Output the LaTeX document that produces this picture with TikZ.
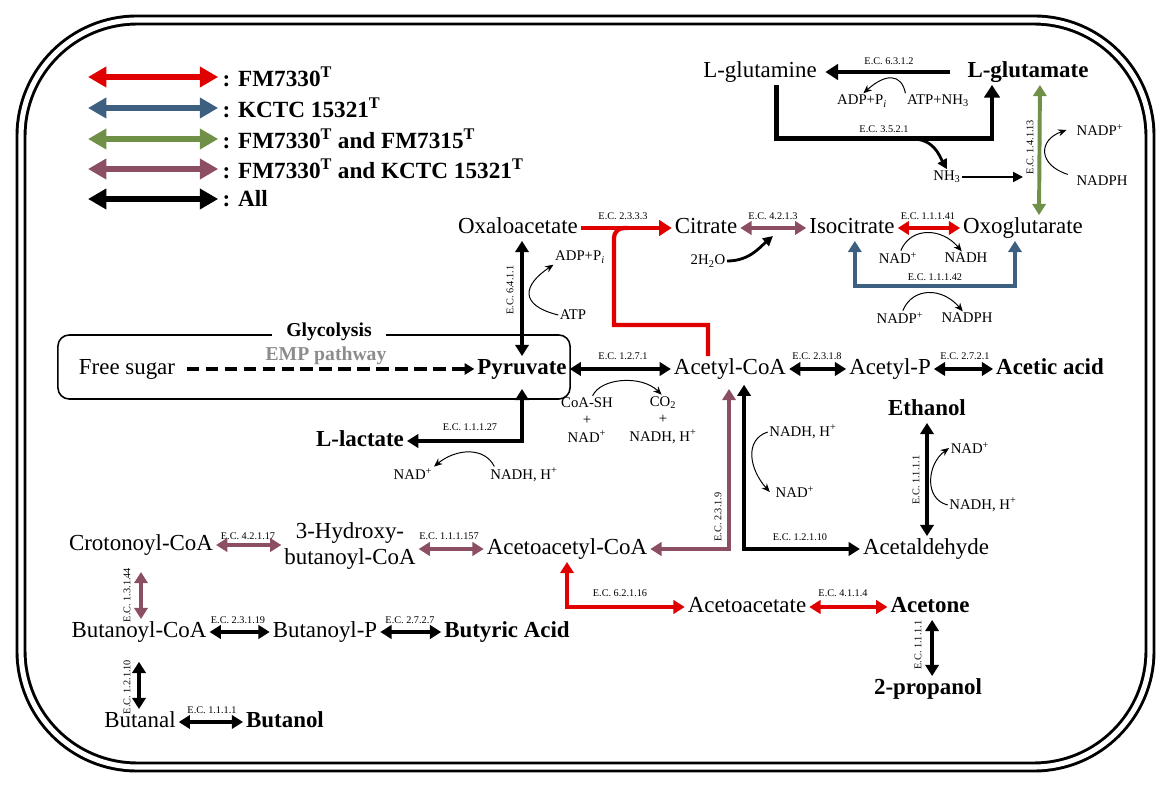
\documentclass[tikz,border=0pt]{standalone}
\usepackage{fontspec}
\setmainfont{Liberation Serif}
\usepackage{xcolor}
\usepackage{tikz}
\usetikzlibrary{arrows.meta}
\definecolor{strred}{RGB}{224,0,0}
\definecolor{strblue}{RGB}{62,96,128}
\definecolor{strgreen}{RGB}{112,144,72}
\definecolor{strmauve}{RGB}{140,78,98}
\definecolor{empgray}{RGB}{140,140,140}
\newcommand{\strT}{\textsuperscript{T}}
\newcommand{\nadplus}{NAD\textsuperscript{+}}
\newcommand{\nadpplus}{NADP\textsuperscript{+}}
\newcommand{\nadhh}{NADH, H\textsuperscript{+}}
\newcommand{\adppi}{ADP+P\textsubscript{\textit{i}}}

\begin{document}
\begin{tikzpicture}[x=0.025cm, y=-0.025cm,
	cpd/.style={font=\fontsize{16.3}{18}\selectfont, inner sep=2pt, text height=11pt, text depth=3pt},
	prod/.style={cpd, font=\fontsize{16.3}{18}\selectfont\bfseries},
	ec/.style={font=\fontsize{7.3}{8}\selectfont, inner sep=1pt},
	ecv/.style={ec, rotate=90},
	cof/.style={font=\fontsize{10.5}{12.5}\selectfont, inner sep=1pt, align=center},
	rxn/.style={line width=2.8pt, {Triangle[length=8pt,width=9.5pt]}-{Triangle[length=8pt,width=9.5pt]}},
	fwd/.style={line width=3pt, -{Triangle[length=9pt,width=11pt]}},
	legarr/.style={line width=3.6pt, {Triangle[length=13pt,width=14pt]}-{Triangle[length=13pt,width=14pt]}},
	legtxt/.style={font=\fontsize{16.5}{18}\selectfont\bfseries, inner sep=1pt, anchor=west},
	cofarr/.style={line width=0.7pt, -{Stealth[length=6pt,width=5pt]}},
	midarr/.style={line width=1.6pt, -{Triangle[length=7pt,width=7pt]}}]
	\useasboundingbox (0,0) rectangle (1171,786);
	\draw[line width=2.1pt, double distance=3.6pt, rounded corners=2.9cm] (21,20) rectangle (1150,767);

	% legend
	\node[legtxt] (lg1) at (221,77) {: FM7330\strT};
	\node[legtxt] (lg2) at (221,108) {: KCTC 15321\strT};
	\node[legtxt] (lg3) at (221,139) {: FM7330\strT{} and FM7315\strT};
	\node[legtxt] (lg4) at (221,169) {: FM7330\strT{} and KCTC 15321\strT};
	\node[legtxt] (lg5) at (221,199) {: All};
	\coordinate (lk1) at (88,77);
	\coordinate (lk2) at (88,108);
	\coordinate (lk3) at (88,139);
	\coordinate (lk4) at (88,169);
	\coordinate (lk5) at (88,199);
	\draw[legarr, strred, shorten >=2pt] (lk1) -- (lg1.west);
	\draw[legarr, strblue, shorten >=2pt] (lk2) -- (lg2.west);
	\draw[legarr, strgreen, shorten >=2pt] (lk3) -- (lg3.west);
	\draw[legarr, strmauve, shorten >=2pt] (lk4) -- (lg4.west);
	\draw[legarr, black, shorten >=2pt] (lk5) -- (lg5.west);

	% glutamine / glutamate
	\node[cpd] (glnm) at (760,72) {L-glutamine};
	\node[prod] (glut) at (1028,72) {L-glutamate};
	\node[ec] (ec6312) at (889,61) {E.C. 6.3.1.2};
	\node[cof] (adp1) at (862,101) {\adppi};
	\node[cof] (atp1) at (938,101) {ATP+NH\textsubscript{3}};
	\draw[fwd, line width=3.5pt, shorten <=10pt, shorten >=4pt] (glut.west) -- (glnm.east);
	\draw[cofarr] (atp1.north west) .. controls +(-4,-20) and +(22,-20) .. ([xshift=1pt]adp1.north);
	\node[ec] (ec3521) at (884,129) {E.C. 3.5.2.1};
	\draw[fwd, line width=3.5pt] ([xshift=12pt]glnm.south) -- ++(0,54) -| ([xshift=-25.6pt]glut.south);
	\coordinate (nhsrc) at (912,139);
	\node[cof] (nh3) at (947,177) {NH\textsubscript{3}};
	\draw[midarr, line width=2pt] (nhsrc) .. controls +(22,0) and +(-8,-14) .. (nh3.north);
	\node[ecv] (ec14113) at (1030,147) {E.C. 1.4.1.13};
	\coordinate (glnh) at (1023,177);
	\draw[midarr, line width=1.4pt] (nh3.east) -- (glnh);
	\node[cof] (nadpo) at (1100,130) {\nadpplus};
	\node[cof] (nadph1) at (1102,181) {NADPH};
	\draw[cofarr] ([xshift=-5pt]nadph1.north west) .. controls (1038,165) and (1038,140) .. ([xshift=-6pt]nadpo.west);

	% citric row
	\node[cpd] (oxa) at (518,228) {Oxaloacetate};
	\node[cpd] (cit) at (706,228) {Citrate};
	\node[cpd] (isoc) at (852,228) {Isocitrate};
	\node[cpd] (oxo) at (1023,228) {Oxoglutarate};
	\draw[rxn, strgreen] ([xshift=11.4pt]oxo.north) -- ([xshift=8.5pt]glut.south);
	\draw[fwd, strred] (oxa.east) -- (cit.west);
	\node[ec] (ec2333) at (623,216) {E.C. 2.3.3.3};
	\draw[rxn, strmauve] (cit.east) -- (isoc.west);
	\node[ec] (ec4213) at (773,216) {E.C. 4.2.1.3};
	\node[cof] (h2o) at (708,261) {2H\textsubscript{2}O};
	\coordinate (h2oend) at (773,236);
	\draw[midarr, line width=2pt] (h2o.east) .. controls +(22,0) and +(-14,12) .. (h2oend);
	\draw[rxn, strred] (isoc.east) -- (oxo.west);
	\node[ec] (ec11141) at (928,216) {E.C. 1.1.1.41};
	\node[cof] (nad1) at (898,258) {\nadplus};
	\node[cof] (nadh1) at (966,258) {NADH};
	\draw[cofarr] ([xshift=2pt]nad1.north) .. controls +(10,-24) and +(-20,-24) .. ([xshift=-3pt]nadh1.north);
	\draw[rxn, strblue] ([xshift=2pt]isoc.south) -- ++(0,45) -| ([xshift=-5.7pt]oxo.south);
	\node[ec] (ec11142) at (935,277) {E.C. 1.1.1.42};
	\node[cof] (nadp2) at (900,318) {\nadpplus};
	\node[cof] (nadph2) at (967,318) {NADPH};
	\draw[cofarr] ([xshift=2pt]nadp2.north) .. controls +(10,-24) and +(-20,-24) .. ([xshift=-3pt]nadph2.north);

	% glycolysis
	\node[draw, line width=1.1pt, rounded corners=8pt, minimum width=12.8cm, minimum height=1.6cm] (glybox) at (314,367) {};
	\node[font=\fontsize{14}{16}\selectfont\bfseries, fill=white, inner xsep=10pt, inner ysep=1pt] (gly) at (329,332) {Glycolysis};
	\node[font=\fontsize{14}{16}\selectfont\bfseries, text=empgray] (emp) at (326,356) {EMP pathway};
	\node[cpd] (sugar) at (127,369) {Free sugar};
	\node[prod] (pyr) at (522,369) {Pyruvate};
	\draw[line width=2.2pt, dash pattern=on 9pt off 4.5pt, -{Triangle[length=7pt,width=8pt]}, shorten <=6pt] (sugar.east) -- (pyr.west);
	\draw[rxn] (oxa.south -| pyr.north) -- (pyr.north);
	\node[ecv] (ec6411) at (510,290) {E.C. 6.4.1.1};
	\node[cof] (adp2) at (580,257) {\adppi};
	\node[cof] (atp2) at (573,315) {ATP};
	\draw[cofarr] (atp2.west) .. controls +(-40,-10) and +(-30,20) .. (adp2.south west);
	\node[prod] (lac) at (360,441) {L-lactate};
	\draw[rxn, shorten >=5pt] (lac.east) -| (pyr.south);
	\node[ec] (ec11127) at (470,427) {E.C. 1.1.1.27};
	\node[cof] (nad3) at (413,474) {\nadplus};
	\node[cof] (nadh3) at (524,475) {\nadhh};
	\draw[cofarr] ([xshift=4pt]nadh3.north west) .. controls +(-10,-20) and +(22,-18) .. (nad3.north east);

	% acetyl-CoA
	\node[cpd] (acoa) at (730,369) {Acetyl-CoA};
	\draw[rxn] (pyr.east) -- (acoa.west);
	\node[ec] (ec1271) at (623,356) {E.C. 1.2.7.1};
	\node[cof] (coash) at (587,420) {CoA-SH\\+\\\nadplus};
	\node[cof] (co2) at (663,420) {CO\textsubscript{2}\\+\\\nadhh};
	\draw[cofarr] ([xshift=4pt]coash.north) .. controls +(8,-18) and +(-20,-20) .. ([xshift=-1pt]co2.north);
	\coordinate (rdc) at (614,325);
	\coordinate (oxjoin) at (614,228);
	\draw[strred, line width=3pt] ([xshift=-15.6pt]acoa.north) |- (rdc) [rounded corners=7pt] -- (oxjoin) -- ++(14,0);
	\node[cpd] (acp) at (890,369) {Acetyl-P};
	\draw[rxn] (acoa.east) -- (acp.west);
	\node[ec] (ec2318) at (817,356) {E.C. 2.3.1.8};
	\node[prod] (acet) at (1050,369) {Acetic acid};
	\draw[rxn] (acp.east) -- (acet.west);
	\node[ec] (ec2721) at (965,356) {E.C. 2.7.2.1};

	% ethanol / acetaldehyde
	\node[cpd] (acacoa) at (567,549) {Acetoacetyl-CoA};
	\node[cpd] (acald) at (926,549) {Acetaldehyde};
	\draw[rxn, strmauve, shorten <=5pt] ([xshift=-0.7pt]acoa.south) |- (acacoa.east);
	\node[ecv] (ec2319) at (718,517) {E.C. 2.3.1.9};
	\draw[rxn, shorten <=2pt] ([xshift=10pt]acoa.south) |- (acald.west);
	\node[ec] (ec12110a) at (800,537) {E.C. 1.2.1.10};
	\node[cof] (nadh4) at (803,432) {\nadhh};
	\node[cof] (nad4) at (795,492) {\nadplus};
	\draw[cofarr] (nadh4.west) .. controls +(-24,8) and +(-20,-22) .. ([xshift=-3pt]nad4.west);
	\node[prod] (etoh) at (927,410) {Ethanol};
	\draw[rxn] (etoh.south) -- (etoh.south |- acald.north);
	\node[ecv] (ec1111a) at (916,480) {E.C. 1.1.1.1};
	\node[cof] (nad5) at (970,448) {\nadplus};
	\node[cof] (nadh5) at (983,505) {\nadhh};
	\draw[cofarr] (nadh5.west) .. controls +(-24,-6) and +(-22,16) .. (nad5.west);

	% acetone
	\node[cpd] (acac) at (747,607) {Acetoacetate};
	\node[prod] (acetone) at (930,607) {Acetone};
	\node[prod] (prop) at (928,689) {2-propanol};
	\draw[rxn, strred] (acacoa.south) |- (acac.west);
	\node[ec] (ec62116) at (620,593) {E.C. 6.2.1.16};
	\draw[rxn, strred] (acac.east) -- (acetone.west);
	\node[ec] (ec4114) at (843,593) {E.C. 4.1.1.4};
	\draw[rxn] ([xshift=1.5pt]acetone.south) -- ([xshift=1.5pt]acetone.south |- prop.north);
	\node[ecv] (ec1111b) at (918,645) {E.C. 1.1.1.1};

	% butanol branch
	\node[cpd] (croton) at (141,545) {Crotonoyl-CoA};
	\node[font=\fontsize{16.3}{19}\selectfont, align=center, inner sep=2pt] (hbut) at (350,546) {3-Hydroxy-\\butanoyl-CoA};
	\draw[rxn, strmauve] (croton.east) -- (croton.east -| hbut.west);
	\node[ec] (ec42117) at (248,536) {E.C. 4.2.1.17};
	\draw[rxn, strmauve] (hbut.east |- acacoa.west) -- (acacoa.west);
	\node[ec] (ec111157) at (449,536) {E.C. 1.1.1.157};
	\node[cpd] (buco) at (139,632) {Butanoyl-CoA};
	\draw[rxn, strmauve, shorten <=10pt] (croton.south) -- (croton.south |- buco.north);
	\node[ecv] (ec13144) at (127,595) {E.C. 1.3.1.44};
	\node[cpd] (bup) at (325,632) {Butanoyl-P};
	\node[prod] (buty) at (507,632) {Butyric Acid};
	\draw[rxn] (buco.east) -- (bup.west);
	\node[ec] (ec23119) at (238,620) {E.C. 2.3.1.19};
	\draw[rxn] (bup.east) -- (buty.west);
	\node[ec] (ec2727) at (410,620) {E.C. 2.7.2.7};
	\node[cpd] (bual) at (140,722) {Butanal};
	\node[prod] (buol) at (285,722) {Butanol};
	\draw[rxn, shorten <=12pt] (buco.south) -- (buco.south |- bual.north);
	\node[ecv] (ec12110b) at (127,687) {E.C. 1.2.1.10};
	\draw[rxn] (bual.east) -- (buol.west);
	\node[ec] (ec1111c) at (212,710) {E.C. 1.1.1.1};
\end{tikzpicture}
\end{document}
